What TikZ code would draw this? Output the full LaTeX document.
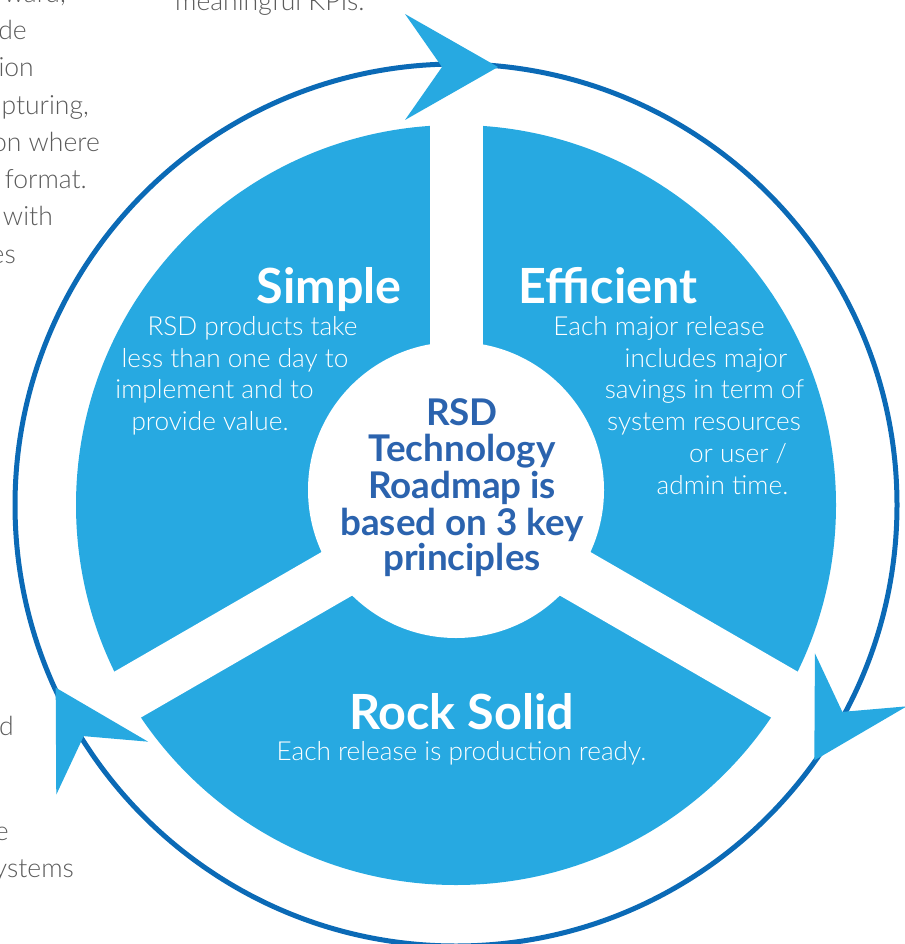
\documentclass[tikz,border=0pt]{standalone}
\usepackage{fontspec}
\setmainfont{Lato}
\newfontfamily\lightfont{Lato Light}
\definecolor{pieblue}{HTML}{27A9E1}
\definecolor{ringblue}{HTML}{0B6AB6}
\definecolor{coreblue}{HTML}{2B63AE}
\definecolor{textgray}{HTML}{5B5B5B}
\begin{document}
\begin{tikzpicture}[x=1pt,y=1pt,
  head/.style={text=white, font=\fontsize{48.5}{48.5}\selectfont\bfseries, inner sep=0, anchor=base},
  body/.style={text=white, font=\lightfont\fontsize{26.2}{32}\selectfont, inner sep=0, anchor=base},
  core/.style={text=coreblue, font=\fontsize{36.8}{37}\selectfont\bfseries, inner sep=0, anchor=base},
  graytxt/.style={text=textgray, font=\lightfont\fontsize{26.5}{37}\selectfont, inner sep=0, anchor=base east},
  gap/.style={white, line width=53},
  ring/.style={ringblue, line width=5},
  dart/.style={fill=pieblue}
]
\useasboundingbox (0,0) rectangle (904,-944);
\coordinate (C) at (456,-505);
\coordinate (I) at (456,-490);
% pie
\fill[pieblue] (C) circle[radius=380];
\foreach \a in {90,210,330} \draw[gap] (C) -- ++(\a:420);
\fill[white] (I) circle[radius=148];
% ring
\draw[ring] (C) circle[radius=441];
\foreach \r in {0,120,240}
  \fill[dart, rotate around={\r:(C)}] (498,-67) -- (405,-14) -- (442,-67) -- (405,-120) -- cycle;
% headings
\node[head] (simple) at (329,-303) {Simple};
\node[head] (efficient) at (608,-303) {Efficient};
\node[head] (rock) at (461.5,-729) {Rock Solid};
% simple body
\node[body] (s1) at (252.5,-335) {RSD products take};
\node[body] (s2) at (235,-367) {less than one day to};
\node[body] (s3) at (214.5,-398) {implement and to};
\node[body] (s4) at (210,-430) {provide value.};
% efficient body
\node[body] (e1) at (659,-335) {Each major release};
\node[body] (e2) at (706,-367) {includes major};
\node[body] (e3) at (704.5,-398) {savings in term of};
\node[body] (e4) at (704,-430) {system resources};
\node[body] (e5) at (738,-462) {or user /};
\node[body] (e6) at (722.5,-494) {admin time.};
% rock body
\node[body] (r1) at (461.5,-760) {Each release is production ready.};
% core
\node[core] (c1) at (462,-425) {RSD};
\node[core] (c2) at (462,-461) {Technology};
\node[core] (c3) at (462,-498) {Roadmap is};
\node[core] (c4) at (462,-535) {based on 3 key};
\node[core] (c5) at (462,-570) {principles};
% cropped page text
\node[graytxt] (g0) at (66,-3) {ward,};
\node[graytxt] (g1) at (27,-40) {de};
\node[graytxt] (g2) at (34,-77) {ion};
\node[graytxt] (g3) at (89,-115) {pturing,};
\node[graytxt] (g4) at (100,-152) {on where};
\node[graytxt] (g5) at (87,-188) {format.};
\node[graytxt] (g6) at (53,-225) {with};
\node[graytxt] (g7) at (16,-263) {es};
\node[graytxt] (g8) at (14,-735) {d};
\node[graytxt] (g9) at (9,-840) {e};
\node[graytxt] (g10) at (74,-877) {ystems};
\node[graytxt, anchor=base west] (gt) at (175,-11) {meaningful KPIs.};
\end{tikzpicture}
\end{document}
